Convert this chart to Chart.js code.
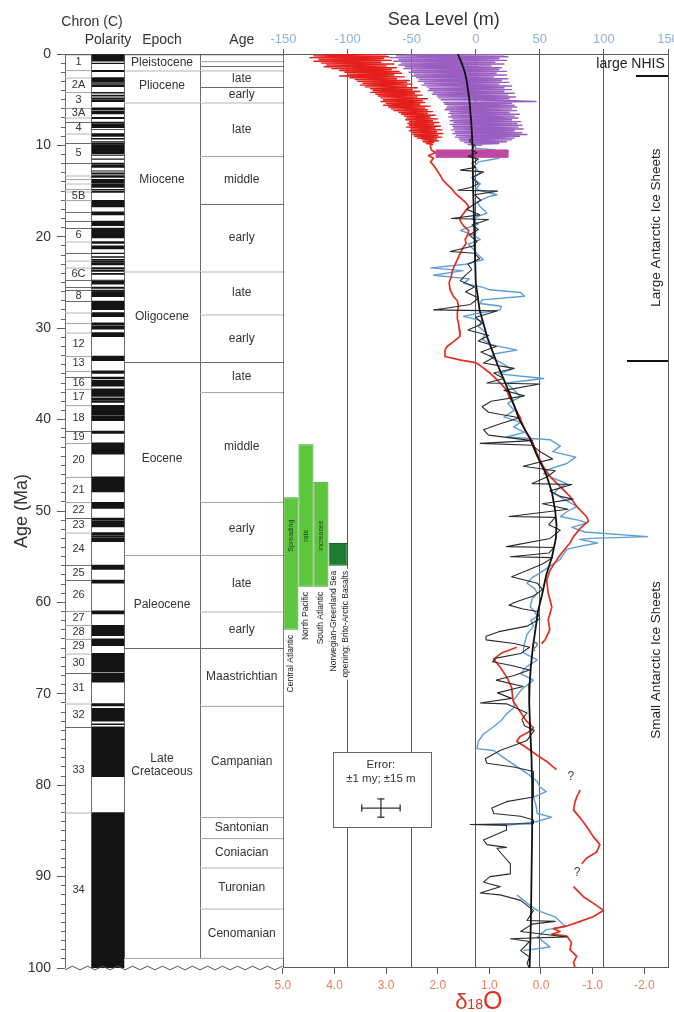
<!DOCTYPE html>
<html>
<head>
<meta charset="utf-8">
<script src="https://cdn.jsdelivr.net/npm/chart.js@4.4.1/dist/chart.umd.min.js"></script>
<style>
  html, body { margin: 0; padding: 0; background: #fff; }
  #wrap { width: 674px; height: 1012px; }
</style>
</head>
<body>
<div id="wrap"><canvas id="c" width="674" height="1012"></canvas></div>
<script>
const FONT = "'Liberation Sans', Arial, Helvetica, sans-serif";

// ---------------- Geomagnetic polarity time scale (Ma) ----------------
const chronNames = ['1','2','2A','3','3A','3B','4','4A','5','5A','5AA','5AB','5AC','5AD','5B','5C','5D','5E','6','6A','6AA','6B','6C','7','7A','8','9','10','11','12','13','15','16','17','18','19','20','21','22','23','24','25','26','27','28','29','30','31','32','33','34'];
const chronTop = [0,1.77,2.581,4.18,5.894,6.935,7.432,8.699,9.74,11.935,13.302,13.703,14.178,14.8,15.034,16.014,17.277,18.281,19.048,20.518,21.768,22.588,23.353,24.73,25.496,25.823,27.027,28.283,29.401,30.479,33.058,34.655,35.343,36.618,38.426,41.257,42.536,46.264,49.037,50.778,52.364,55.904,57.554,60.92,62.499,63.976,65.578,67.735,71.071,73.619,83.0];
const chronLabelled = ['1','2A','3','3A','4','5','5B','6','6C','8','12','13','16','17','18','19','20','21','22','23','24','25','26','27','28','29','30','31','32','33','34'];
const recordBase = 100;

// normal-polarity intervals [young, old]
const normalPolarity = [[0,0.78],[0.99,1.07],[1.77,1.95],[2.581,3.04],[3.11,3.22],[3.33,3.58],[4.18,4.29],[4.48,4.62],[4.8,4.89],[4.98,5.23],[5.894,6.137],[6.269,6.567],[6.935,7.091],[7.432,7.562],[7.65,8.072],[8.225,8.257],[8.699,9.025],[9.23,9.308],[9.58,9.642],[9.74,9.88],[9.92,10.949],[11.052,11.099],[11.476,11.531],[11.935,12.078],[12.184,12.401],[12.775,12.819],[12.991,13.139],[13.302,13.51],[13.703,14.076],[14.178,14.612],[14.8,14.888],[15.034,15.155],[16.014,16.293],[16.327,16.488],[16.556,16.726],[17.277,17.615],[18.281,18.781],[19.048,20.131],[20.518,20.725],[20.996,21.32],[21.768,21.859],[22.151,22.248],[22.459,22.493],[22.588,22.75],[22.804,23.069],[23.353,23.535],[23.677,23.8],[23.999,24.118],[24.73,24.781],[24.835,25.183],[25.496,25.648],[25.823,25.951],[25.992,26.554],[27.027,27.972],[28.283,28.512],[28.578,28.745],[29.401,29.662],[29.765,30.098],[30.479,30.939],[33.058,33.545],[34.655,34.94],[35.343,35.526],[35.685,36.341],[36.618,37.473],[37.604,37.848],[37.92,38.113],[38.426,39.552],[39.631,40.13],[41.257,41.521],[42.536,43.789],[46.264,47.906],[49.037,49.714],[50.778,50.946],[51.047,51.743],[52.364,52.663],[52.757,52.801],[52.903,53.347],[55.904,56.391],[57.554,57.911],[60.92,61.276],[62.499,63.634],[63.976,64.745],[65.578,67.61],[67.735,68.737],[71.071,71.338],[71.587,73.004],[73.291,73.374],[73.619,79.075],[83.0,100]];

// ---------------- Epochs and ages ----------------
const epochNames = ['Pleistocene','Pliocene','Miocene','Oligocene','Eocene','Paleocene','Late\nCretaceous'];
const epochTop = [0,1.8,5.3,23.8,33.7,54.8,65.0];
const epochBase = [1.8,5.3,23.8,33.7,54.8,65.0,99.0];
const epochTextAge = [0.9,3.5,13.7,28.7,44.3,60.2,77.8];

const stageNames = ['','','','late','early','late','middle','early','late','early','late','middle','early','late','early','Maastrichtian','Campanian','Santonian','Coniacian','Turonian','Cenomanian'];
const stageTop = [0,0.78,1.3,1.8,3.6,5.3,11.2,16.4,23.8,28.5,33.7,37.0,49.0,54.8,61.0,65.0,71.3,83.5,85.8,89.0,93.5];
const stageBaseAge = 99.0;

// ---------------- Sea level (m) ----------------
const longTermAge = [0,0.5,1,2,3,5,7.5,10,15,20,25,28,31,34,37,40,42,44,46,48,50,51.5,53,55,57,59,61,63,65,67,69,71,74,77,80,85,90,95,100];
const longTermSea = [-14,-12.5,-11,-8.5,-7,-5,-3.5,-2.5,-2,-1,0,3,9,17,26,34,42,48,55,59.5,62,63,62.5,59.5,55,52,48.5,46.5,44.5,43,42,41.7,42.5,43.5,44,44,43.5,43,42];

const backstripAge = [9.0,9.5,10.0,10.5,10.8,11.2,11.5,12.0,12.4,12.7,12.9,13.5,14.2,14.6,14.9,15.0,15.4,16.0,16.6,17.0,17.6,18.0,18.1,18.7,19.2,19.8,20.5,21.0,21.6,21.8,22.4,23.0,23.6,24.2,24.8,25.5,26.0,26.7,27.4,28.0,28.1,28.8,29.5,30.2,30.8,31.4,32.0,32.6,33.2,33.8,34.4,34.9,35.5,36.0,36.1,36.8,37.4,38.0,38.6,39.2,39.8,40.5,41.1,41.7,42.3,42.6,42.8,43.5,44.3,45.1,45.6,46.3,47.0,47.1,47.8,48.4,48.7,49.2,49.8,50.6,50.7,51.5,52.1,53.0,53.9,54.0,54.6,55.0,55.1,55.8,56.5,57.2,57.9,58.6,59.3,60.0,60.3,60.7,61.0,61.8,62.6,63.2,63.7,64.1,64.5,64.9,65.6,66.1,66.5,66.9,67.4,68.0,68.5,69.2,69.9,70.5,71.0,71.1,72.1,72.8,73.5,74.0,75.1,76.2,77.1,77.6,78.0,78.5,80.0,81.3,81.8,82.5,83.1,83.4,83.8,84.2,84.3,84.4,84.9,86.0,86.5,86.8,86.9,87.8,88.6,89.7,90.0,90.6,90.8,91.1,91.8,92.0,92.6,93.7,94.8,94.9,95.2,96.0,96.6,96.8,97.1,98.1,98.8,99.5,100];
const backstripSea = [-2,-5,-1,-3,1,-6,2,-3,0,-12,6,-3,2,-4,-14,17,-1,4,-3,-7,3,-19,10,-3,2,-5,1,-2,-20,-1,3,-6,-3,-8,-12,-1,-8,2,-4,-33,17,0,5,-6,10,2,16,4,14,6,30,14,22,8.7,50,22,38,12,5,10,34,18,6,10,44,3.5,44,50,60,37,62,55,44,75,58,66,76,52,72,26,62,57,66,58,24,61,57,27,60,52,40,28,48,52,45,30,26,36,48,50,40,18,8,8,30,42,35,16,13,28,42,30,16,37,17,28,3.5,24,40,36,38,45.6,40,19,7.4,8.7,29.5,45,45,45,24,12.6,14,35,45,45,-4.3,24,24,6,8.7,24,16.5,22,27,27,11,6,11,19,3.5,19,35,45,40,62,44,35,71,27,42,35,42,40,42];

const secondAge = [10.3,10.5,10.9,11.4,11.8,12.3,12.7,13.0,13.6,14.2,14.8,15.4,15.6,16.2,16.7,17.4,18.0,18.6,19.3,19.8,20.3,20.8,21.4,22.0,22.5,23.0,23.4,23.7,24.2,24.6,25.1,25.5,25.8,26.1,26.5,26.9,27.3,27.6,28.0,28.4,28.7,29.2,29.8,30.5,31.2,31.8,32.4,32.8,33.1,33.8,34.5,35.0,35.5,36.0,36.8,37.5,38.2,39.0,39.7,40.3,40.8,41.4,41.9,42.2,42.9,43.5,44.1,44.8,45.4,45.9,46.5,47.0,47.6,48.1,48.8,49.5,50.0,50.6,51.0,51.3,51.8,52.3,52.8,53.0,53.1,53.5,53.9,54.2,54.8,55.3,56.0,56.8,57.3,57.9,58.5,59.0,59.6,60.5,61.0,61.5,62.0,62.6,63.5,64.5,65.5,66.3,67.0,67.8,68.5,69.5,70.7,71.5,72.2,72.9,73.6,74.4,75.2,76.0,76.2,77.2,78.7,79.6,80.2,80.7,81.3,82.2,83.1,83.5,84.0,84.4,88.0,92.0,92.9,93.7,94.4,95.5,95.8,96.6,97.7,98.1];
const secondSea = [-1,15,19,18,2,-1,1,3.5,-2,3.5,0,16.5,10,1,3.5,8.7,-3,2,-12,-2,3.5,-6,-1.7,2,6,-8,-35,-10,-33,-5,-9.5,5,11,35,38,5,3.5,20,19,0,-9.5,5,2,8,5,12,32,15,11,20,28,18,53,24,30,35,25,30,22,35,29.5,38,24,58,66,60,78,71,58,53,62,71,64,61,70,79,72,66,80,87,75,85,134,90,81,95,80,71,68,66,58,50,44,40,46,48,44,42.5,46,48,43,45,40,38,37,48,40,35,45,36,29.5,30,24,20,14,6,2,1,14,24,40,48,50,55,45,47,48,59,47,24,null,32,40,48,62,70,55,48,58,37];

// high-resolution 0-10 Ma records
const bandAge = [0,0.1,0.2,0.3,0.4,0.5,0.6,0.7,0.8,0.9,1.0,1.1,1.2,1.3,1.4,1.5,1.6,1.7,1.8,1.9,2.0,2.1,2.2,2.3,2.4,2.5,2.6,2.7,2.8,2.9,3.0,3.1,3.2,3.3,3.4,3.5,3.6,3.7,3.8,3.9,4.0,4.1,4.2,4.3,4.4,4.5,4.6,4.7,4.8,4.9,5.0,5.1,5.2,5.3,5.4,5.5,5.6,5.7,5.8,5.9,6.0,6.1,6.2,6.3,6.4,6.5,6.6,6.7,6.8,6.9,7.0,7.1,7.2,7.3,7.4,7.5,7.6,7.7,7.8,7.9,8.0,8.1,8.2,8.3,8.4,8.5,8.6,8.7,8.8,8.9,9.0,9.1,9.2,9.3,9.4,9.5,9.6,9.7,9.8,9.9,10.0];
const recentSea = [-55,22,-62,25,-67,18,-60,24,-64,15,-58,22,-60,12,-55,20,-56,18,-50,24,-52,16,-48,24,-50,14,-46,25,-44,20,-45,26,-40,18,-42,28,-38,22,-36,28,-37,22,-33,30,-34,25,-30,31,-29,26,-27,30,47,-25,28,-24,30,-22,32,-23,28,-24,32,-20,26,-21,34,-19,30,-21,33,-18,28,-20,35,-17,32,-20,36,-18,33,-17,37,-19,30,-16,36,-18,40,-15,34,-16,30,-13,28,-12,24,-9,18,-6,5];
const recentD18O = [4.2,3.0,4.4,2.95,4.48,3.05,4.3,2.9,4.4,3.1,4.25,2.85,4.15,3.0,4.2,2.8,4.05,2.9,3.9,2.75,3.8,2.7,3.75,2.85,3.9,2.65,3.7,2.8,3.6,2.55,3.55,2.6,3.45,2.5,3.5,2.6,3.4,2.4,3.3,2.5,3.25,2.35,3.3,2.45,3.2,2.3,3.15,2.4,3.1,2.2,3.05,2.3,3.1,2.25,3.0,2.35,3.05,2.15,2.95,2.25,2.9,2.2,2.85,2.1,2.75,2.2,2.7,2.05,2.65,2.15,2.6,2.0,2.62,2.1,2.55,1.98,2.58,2.08,2.55,1.95,2.6,2.05,2.52,1.92,2.55,2.02,2.5,1.9,2.48,2.0,2.45,1.92,2.4,2.02,2.3,1.98,2.28,2.08,2.22,2.1,2.15];
const middleMioceneAge = [10.5, 11.3];
const middleMioceneSea = [-31, 25];

// ---------------- Benthic foraminiferal d18O (per mil) ----------------
const d18OAge = [10.0,10.5,10.8,11.1,11.4,11.8,12.2,12.7,13.3,13.8,14.2,14.8,15.2,15.8,16.3,16.7,17.3,17.8,18.2,18.8,19.3,19.8,20.3,20.7,21.3,22.0,22.5,23.2,23.8,24.4,25.0,25.8,26.5,27.0,27.6,28.3,29.0,29.4,30.2,30.9,31.5,32.0,32.4,33.1,33.5,33.8,34.2,34.9,35.5,36.0,36.8,37.5,38.2,39.0,39.7,40.5,41.5,42.2,43.7,45.1,46.2,47.3,48.4,49.5,50.6,51.1,51.9,52.8,53.5,54.6,55.4,56.5,57.6,59.0,60.5,61.9,63.0,64.1,64.5,64.7,64.9,65.5,66.2,67.1,68.2,69.3,70.8,71.9,73.0,73.7,74.0,74.7,75.2,75.9,76.7,77.4,78.3,79.4,80.5,81.2,81.8,82.7,83.6,84.5,85.6,86.5,87.3,88.0,88.6,89.8,91.1,92.2,92.9,93.7,94.4,94.9,95.4,95.7,96.0,96.3,96.5,97.2,98.0,98.7,99.4,100];
const d18OValue = [2.15,2.12,2.04,2.18,2.08,2.14,2.08,2.02,1.95,1.9,1.83,1.72,1.67,1.55,1.45,1.4,1.48,1.55,1.57,1.5,1.4,1.42,1.47,1.45,1.52,1.58,1.62,1.68,1.72,1.74,1.78,1.76,1.7,1.62,1.6,1.62,1.62,1.6,1.58,1.57,1.7,1.82,1.86,1.86,1.55,1.25,1.15,0.99,0.88,0.79,0.66,0.62,0.54,0.48,0.41,0.36,0.28,0.18,0.08,-0.04,-0.17,-0.37,-0.56,-0.69,-0.88,-0.92,-0.76,-0.63,-0.56,-0.4,-0.3,-0.17,-0.11,-0.14,-0.21,-0.14,-0.17,-0.08,-0.01,null,0.47,0.75,0.92,0.79,0.66,0.57,0.54,0.41,0.28,0.15,0.18,0.41,0.47,0.28,0.08,-0.11,-0.3,null,-0.76,-0.7,-0.66,-0.63,-0.76,-0.88,-1.01,-1.14,-1.08,-0.88,-0.79,null,-0.63,-0.82,-1.01,-1.21,-1.01,-0.76,-0.5,-0.24,-0.37,-0.21,-0.5,-0.59,-0.56,-0.69,-0.63,-0.66];
const uncertainAge = [65.0, 79.1, 89.6];
const uncertainD18O = [0.12, -0.58, -0.70];

// ---------------- Tectonic events ----------------
const riftNames = ['Central Atlantic','North Pacific','South Atlantic'];
const riftWords = ['Spreading','rate','increases'];
const riftTop = [48.5, 42.7, 46.8];
const riftBase = [63.0, 58.3, 58.3];
const openingTop = 53.5;
const openingBase = 56.0;
const openingText = ['Norwegian-Greenland Sea','opening; Brito-Arctic Basalts'];

// ice sheet onsets
const iceOnsetAge = [2.4, 33.6];
const iceOnsetFrom = [125, 118];

// dating / amplitude uncertainty
const errAge = 1;   // my
const errSea = 15;  // m

// ---------------- Axis ticks ----------------
const ageTicks = [0,10,20,30,40,50,60,70,80,90,100];
const ageMinorTicks = Array.from({length: 101}, (_, i) => i);
const seaTicks = [-150,-100,-50,0,50,100,150];
const d18OTicks = [5,4,3,2,1,0,-1,-2];

// ---------------- Layout of the stratigraphic columns (px from plot left) ----------------
const COL = { chron: [0, 27], polarity: [27, 59], epoch: [59, 135], stage: [135, 218.5] };
const mid = r => (r[0] + r[1]) / 2;
const wid = r => r[1] - r[0];
const riftCenter = [-144.2, -132.5, -120.8];
const openingCenter = -107.4;
const breakX = [0,7.5,15,22.5,30,37.5,45,52.5,60,67.5,75,82.5,90,97.5,105,112.5,120,127.5,135,142.5,150,157.5,165,172.5,180,187.5,195,202.5,210,217.5];
const breakAge = [100.2,99.8,100.2,99.8,100.2,99.8,100.2,99.8,100.2,99.8,100.2,99.8,100.2,99.8,100.2,99.8,100.2,99.8,100.2,99.8,100.2,99.8,100.2,99.8,100.2,99.8,100.2,99.8,100.2,99.8];
const errCenter = { sea: -74, age: 82.5 };
const errBox = { sea: [-111.5, -35], age: [76.4, 84.6] };

// ---------------- Dataset builders ----------------
const pts = (xv, ages) => ages.map((a, i) => (xv[i] === null ? { x: null, y: null } : { x: xv[i], y: a }));
function trace(label, xv, ages, axis, style) {
  return Object.assign({
    type: 'line', label, xAxisID: axis, yAxisID: 'y', data: pts(xv, ages),
    pointRadius: 0, fill: false, tension: 0, spanGaps: false, borderJoinStyle: 'round'
  }, style);
}
function column(label, range, tops, bases, style) {
  return Object.assign({
    type: 'bar', label, xAxisID: 'xs', yAxisID: 'y', grouped: false,
    barThickness: wid(range), inflateAmount: 0, borderSkipped: false,
    data: tops.map((t, i) => ({ x: mid(range), y: [t, bases[i]] }))
  }, style);
}
const nextTops = (tops, last) => tops.map((t, i) => (i + 1 < tops.length ? tops[i + 1] : last));

const chronBase = nextTops(chronTop, recordBase);
const stageBase = nextTops(stageTop, stageBaseAge);
const chronLabels = chronNames.map(n => (chronLabelled.includes(n) ? n : ''));

const datasets = [
  column('chron', COL.chron, chronTop, chronBase, {
    backgroundColor: '#fff', borderColor: '#6a6a6a',
    borderWidth: { top: 1, left: 1, right: 1, bottom: 0 }, order: 30
  }),
  column('epoch', COL.epoch, epochTop, epochBase, {
    backgroundColor: '#fff', borderColor: '#6a6a6a',
    borderWidth: ctx => ({ top: 1, left: 1, right: 0, bottom: ctx.dataIndex === epochTop.length - 1 ? 1 : 0 }), order: 30
  }),
  column('stage', COL.stage, stageTop, stageBase, {
    backgroundColor: '#fff', borderColor: '#6a6a6a',
    borderWidth: ctx => ({ top: 1, left: 1, right: 0, bottom: ctx.dataIndex === stageTop.length - 1 ? 1 : 0 }), order: 30
  }),
  column('polarity', COL.polarity, normalPolarity.map(p => p[0]), normalPolarity.map(p => p[1]), {
    backgroundColor: '#141414', borderWidth: 0, inflateAmount: 0.3, order: 29
  }),
  {
    type: 'bar', label: 'rift', xAxisID: 'xSea', yAxisID: 'y', grouped: false,
    barThickness: 15, inflateAmount: 0, borderSkipped: false,
    data: riftTop.map((t, i) => ({ x: riftCenter[i], y: [t, riftBase[i]] })),
    backgroundColor: '#5cc63e', borderColor: '#3f9a2c', borderWidth: 1, order: 28
  },
  {
    type: 'bar', label: 'opening', xAxisID: 'xSea', yAxisID: 'y', grouped: false,
    barThickness: 19, inflateAmount: 0, borderSkipped: false,
    data: [{ x: openingCenter, y: [openingTop, openingBase] }],
    backgroundColor: '#1f7c32', borderColor: '#17652a', borderWidth: 1, order: 28
  },
  trace('second', secondSea, secondAge, 'xSea', { borderColor: '#5d9dd8', borderWidth: 1.4, order: 12 }),
  trace('d18O', d18OValue, d18OAge, 'xO', { borderColor: '#e2301f', borderWidth: 1.7, order: 11 }),
  trace('recentD18O', recentD18O, bandAge, 'xO', { borderColor: '#e41e1a', borderWidth: 1.4, order: 10 }),
  trace('recentSea', recentSea, bandAge, 'xSea', { borderColor: '#9a5ec2', borderWidth: 1.4, order: 9 }),
  trace('middleMiocene',
    [middleMioceneSea[0], middleMioceneSea[1], middleMioceneSea[1], middleMioceneSea[0], middleMioceneSea[0]],
    [middleMioceneAge[0], middleMioceneAge[0], middleMioceneAge[1], middleMioceneAge[1], middleMioceneAge[0]],
    'xSea', { borderColor: '#c0479f', backgroundColor: '#c0479f', borderWidth: 1, fill: 'shape', order: 8 }),
  trace('backstrip', backstripSea, backstripAge, 'xSea', { borderColor: '#2a2a2a', borderWidth: 1.1, order: 6 }),
  trace('longTerm', longTermSea, longTermAge, 'xSea', { borderColor: '#111', borderWidth: 1.8, order: 5 }),
  ...iceOnsetAge.map((a, i) => trace('onset' + i, [iceOnsetFrom[i], seaTicks[seaTicks.length - 1]], [a, a], 'xSea',
    { borderColor: '#111', borderWidth: 2, order: 4 })),
  trace('errH', [errCenter.sea - errSea, errCenter.sea + errSea], [errCenter.age, errCenter.age], 'xSea', {
    borderColor: '#333', borderWidth: 1.3, pointRadius: 3.5, pointStyle: 'line', rotation: 90,
    pointBorderColor: '#333', pointBorderWidth: 1.3, order: 2 }),
  trace('errV', [errCenter.sea, errCenter.sea], [errCenter.age - errAge, errCenter.age + errAge], 'xSea', {
    borderColor: '#333', borderWidth: 1.3, pointRadius: 3.5, pointStyle: 'line', rotation: 0,
    pointBorderColor: '#333', pointBorderWidth: 1.3, order: 2 }),
  {
    type: 'line', label: 'break', xAxisID: 'xs', yAxisID: 'y', data: pts(breakX, breakAge),
    borderColor: '#555', borderWidth: 1, pointRadius: 0, fill: false, tension: 0, clip: 6, order: 1
  }
];

// ---------------- Annotation drawing ----------------
function rotatedText(ctx, text, x, y, align) {
  ctx.save();
  ctx.translate(x, y);
  ctx.rotate(-Math.PI / 2);
  ctx.textAlign = align;
  ctx.fillText(text, 0, 0);
  ctx.restore();
}

const decor = {
  id: 'decor',
  beforeDraw(chart) {
    const { ctx, width, height } = chart;
    ctx.save();
    ctx.fillStyle = '#fff';
    ctx.fillRect(0, 0, width, height);
    ctx.restore();
  },
  beforeDatasetsDraw(chart) {
    const { ctx, scales: { xSea, y } } = chart;
    ctx.save();
    ctx.strokeStyle = '#5a5a5a';
    ctx.lineWidth = 1;
    const yb = Math.round(y.getPixelForValue(recordBase)) - 0.5;
    ctx.beginPath();
    ctx.moveTo(xSea.getPixelForValue(seaTicks[0]), yb);
    ctx.lineTo(xSea.getPixelForValue(seaTicks[seaTicks.length - 1]), yb);
    ctx.stroke();
    // uncertainty legend box
    const x0 = Math.round(xSea.getPixelForValue(errBox.sea[0])) + 0.5;
    const x1 = Math.round(xSea.getPixelForValue(errBox.sea[1])) + 0.5;
    const y0 = Math.round(y.getPixelForValue(errBox.age[0])) + 0.5;
    const y1 = Math.round(y.getPixelForValue(errBox.age[1])) + 0.5;
    ctx.fillStyle = '#fff';
    ctx.fillRect(x0, y0, x1 - x0, y1 - y0);
    ctx.strokeStyle = '#666';
    ctx.strokeRect(x0, y0, x1 - x0, y1 - y0);
    ctx.restore();
  },
  afterDatasetsDraw(chart) {
    const { ctx, chartArea, scales: { xs, xSea, xO, y } } = chart;
    ctx.save();
    ctx.textAlign = 'center';
    ctx.textBaseline = 'middle';
    ctx.fillStyle = '#333';

    const put = (label, texts, size, ages) => {
      const idx = chart.data.datasets.findIndex(d => d.label === label);
      const meta = chart.getDatasetMeta(idx);
      ctx.font = `${size}px ${FONT}`;
      meta.data.forEach((bar, i) => {
        const text = texts[i];
        if (!text) return;
        const yc = ages ? y.getPixelForValue(ages[i]) : (bar.y + bar.base) / 2;
        const lines = text.split('\n');
        lines.forEach((ln, k) => ctx.fillText(ln, bar.x, yc + (k - (lines.length - 1) / 2) * size * 1.15));
      });
      return meta;
    };
    put('chron', chronLabels, 11);
    put('epoch', epochNames, 12, epochTextAge);
    put('stage', stageNames, 12);

    // column headings
    ctx.font = `14px ${FONT}`;
    ctx.fillText('Chron (C)', xs.getPixelForValue(COL.chron[1]), chartArea.top - 32);
    ctx.fillText('Polarity', xs.getPixelForValue(mid(COL.polarity)), chartArea.top - 14);
    ctx.fillText('Epoch', xs.getPixelForValue(mid(COL.epoch)), chartArea.top - 14);
    ctx.fillText('Age', xs.getPixelForValue(mid(COL.stage)), chartArea.top - 14);

    // axis titles
    ctx.font = `18px ${FONT}`;
    ctx.fillText('Sea Level (m)', xSea.getPixelForValue(-25), chartArea.top - 34);

    ctx.fillStyle = '#d9331f';
    ctx.textAlign = 'left';
    ctx.textBaseline = 'alphabetic';
    const parts = [['δ', 22], ['18', 14], ['O', 25]];
    let total = 0;
    parts.forEach(p => { ctx.font = `${p[1]}px ${FONT}`; total += ctx.measureText(p[0]).width; });
    let tx = xSea.getPixelForValue(0) + 3 - total / 2;
    const ty = chartArea.bottom + 41;
    parts.forEach(p => {
      ctx.font = `${p[1]}px ${FONT}`;
      ctx.fillText(p[0], tx, ty);
      tx += ctx.measureText(p[0]).width;
    });

    // ice-sheet annotations
    ctx.fillStyle = '#222';
    ctx.textBaseline = 'middle';
    ctx.font = `14px ${FONT}`;
    ctx.textAlign = 'right';
    ctx.fillText('large NHIS', xSea.getPixelForValue(147.5), y.getPixelForValue(1.1));
    ctx.font = `13.5px ${FONT}`;
    rotatedText(ctx, 'Large Antarctic Ice Sheets', xSea.getPixelForValue(140.5), y.getPixelForValue(19.0), 'center');
    rotatedText(ctx, 'Small Antarctic Ice Sheets', xSea.getPixelForValue(140.5), y.getPixelForValue(66.3), 'center');

    // uncertainty legend text
    ctx.textAlign = 'center';
    ctx.font = `11.5px ${FONT}`;
    ctx.fillStyle = '#333';
    ctx.fillText('Error:', xSea.getPixelForValue(errCenter.sea), y.getPixelForValue(77.8));
    ctx.fillText(`±${errAge} my; ±${errSea} m`, xSea.getPixelForValue(errCenter.sea), y.getPixelForValue(79.3));

    // tectonic bars
    const rift = chart.getDatasetMeta(chart.data.datasets.findIndex(d => d.label === 'rift'));
    const wordY = y.getPixelForValue(52.7);
    rift.data.forEach((bar, i) => {
      ctx.fillStyle = '#1d3d14';
      ctx.font = `7px ${FONT}`;
      rotatedText(ctx, riftWords[i], bar.x, wordY, 'center');
      ctx.fillStyle = '#222';
      ctx.font = `8.5px ${FONT}`;
      rotatedText(ctx, riftNames[i], bar.x, Math.max(bar.y, bar.base) + 5, 'right');
    });
    const open = chart.getDatasetMeta(chart.data.datasets.findIndex(d => d.label === 'opening')).data[0];
    const oy = Math.max(open.y, open.base) + 5;
    ctx.font = `8.5px ${FONT}`;
    ctx.fillStyle = '#222';
    rotatedText(ctx, openingText[0], open.x - 4, oy, 'right');
    const w2 = ctx.measureText(openingText[1]).width;
    ctx.save();
    ctx.translate(open.x + 8, oy);
    ctx.rotate(-Math.PI / 2);
    ctx.fillStyle = '#fff';
    ctx.fillRect(-w2 - 2, -5, w2 + 4, 10);
    ctx.fillStyle = '#222';
    ctx.textAlign = 'right';
    ctx.fillText(openingText[1], 0, 0);
    ctx.restore();

    // uncertain parts of the isotope record
    ctx.font = `12px ${FONT}`;
    ctx.fillStyle = '#444';
    ctx.textAlign = 'center';
    uncertainAge.forEach((a, i) => ctx.fillText('?', xO.getPixelForValue(uncertainD18O[i]), y.getPixelForValue(a)));

    ctx.restore();
  }
};

// keep the edge tick labels from shrinking the plot area
const noEdgePadding = s => { s.paddingLeft = 0; s.paddingRight = 0; };

new Chart(document.getElementById('c'), {
  type: 'line',
  data: { datasets },
  plugins: [decor],
  options: {
    responsive: false,
    animation: false,
    events: [],
    layout: { padding: { left: 0, right: 6, top: 0, bottom: 0 } },
    plugins: { legend: { display: false }, tooltip: { enabled: false }, title: { display: false } },
    scales: {
      y: {
        type: 'linear', position: 'left', weight: 1, min: 0, max: 100, reverse: true, stacked: false,
        afterBuildTicks: s => { s.ticks = ageTicks.map(v => ({ value: v })); },
        ticks: { font: { family: FONT, size: 14 }, color: '#333', padding: 6, autoSkip: false },
        grid: { drawOnChartArea: false, tickLength: 8, color: '#555', tickColor: '#555' },
        border: { display: false },
        title: { display: true, text: 'Age (Ma)', font: { family: FONT, size: 18 }, color: '#333', padding: { top: 11, bottom: 0 } },
        afterFit: s => { s.width = 65; s.paddingTop = 0; s.paddingBottom = 0; }
      },
      yMinor: {
        type: 'linear', position: 'left', weight: 0, min: 0, max: 100, reverse: true, stacked: false,
        afterBuildTicks: s => { s.ticks = ageMinorTicks.map(v => ({ value: v })); },
        ticks: { display: false },
        grid: { drawOnChartArea: false, tickLength: 4, color: '#666', tickColor: '#666' },
        border: { display: false },
        afterFit: s => { s.width = 0; s.paddingTop = 0; s.paddingBottom = 0; }
      },
      xs: { type: 'linear', display: false, min: 0, max: 603, offset: false, grid: { offset: false } },
      xSea: {
        type: 'linear', position: 'top', min: -320.5, max: 150, offset: false,
        afterBuildTicks: s => { s.ticks = seaTicks.map(v => ({ value: v })); },
        ticks: { color: '#8fb0d6', font: { family: FONT, size: 13 }, padding: 2, autoSkip: false, maxRotation: 0 },
        grid: { offset: false, drawOnChartArea: true, color: '#5a5a5a', tickColor: '#5a5a5a', tickLength: 5, lineWidth: 1 },
        border: { display: true, color: '#5a5a5a' },
        afterFit: s => { s.height = 54; noEdgePadding(s); }
      },
      xO: {
        type: 'linear', position: 'bottom', reverse: true, min: -2.46, max: 9.22, offset: false,
        afterBuildTicks: s => { s.ticks = d18OTicks.map(v => ({ value: v })); },
        ticks: { color: '#e3805f', font: { family: FONT, size: 12 }, padding: 4, autoSkip: false, maxRotation: 0,
                 callback: v => Number(v).toFixed(1) },
        grid: { offset: false, drawOnChartArea: false, tickLength: 6, color: '#555', tickColor: '#555' },
        border: { display: false },
        afterFit: s => { s.height = 44; noEdgePadding(s); }
      }
    }
  }
});
</script>
</body>
</html>
